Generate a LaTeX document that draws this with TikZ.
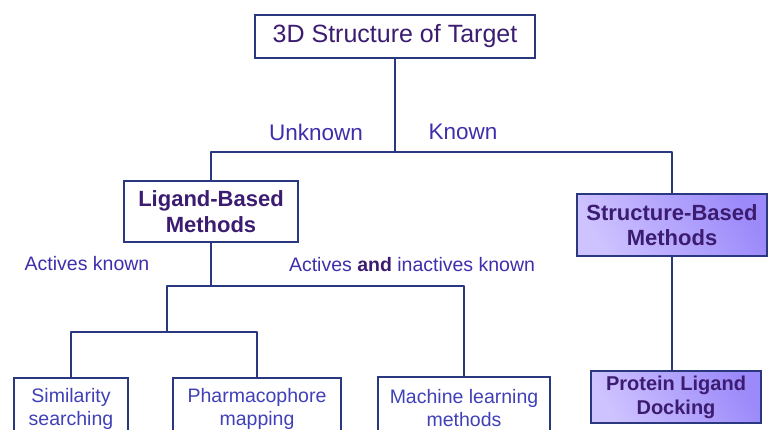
\documentclass[tikz,border=0pt]{standalone}
\usepackage{fontspec}
\setmainfont{Liberation Sans}

\definecolor{linecol}{RGB}{42,56,128}
\definecolor{titlecol}{RGB}{60,28,112}
\definecolor{labelcol}{RGB}{62,46,172}
\definecolor{leafcol}{RGB}{64,64,184}
\definecolor{fillA}{RGB}{206,194,255}
\definecolor{fillB}{RGB}{156,138,250}

\tikzset{
    box/.style={draw=linecol, line width=2.5pt, fill=white, align=center, inner sep=0pt},
    shadebox/.style={box, left color=fillA, right color=fillB, shading angle=120},
    tree/.style={draw=linecol, line width=2.5pt, line join=round},
    lbl/.style={text=labelcol, inner sep=0pt},
}

\begin{document}
\begin{tikzpicture}[x=1pt,y=-1pt]
        \useasboundingbox (0,0) rectangle (770,429);
        \clip (0,0) rectangle (770,429);
        \node[box, minimum width=280pt, minimum height=43pt, text=titlecol, font=\fontsize{25}{30}\selectfont] (target) at (395,36.5) {3D Structure of Target};
        \node[box, minimum width=174pt, minimum height=61pt, text=titlecol, font=\bfseries\fontsize{22}{26}\selectfont] (lig) at (211,211.5) {Ligand-Based\\Methods};
        \node[shadebox, minimum width=190pt, minimum height=62pt, text=titlecol, font=\bfseries\fontsize{22}{25}\selectfont] (struct) at (672,225) {Structure-Based\\Methods};
        \node[shadebox, minimum width=170pt, minimum height=52pt, text=titlecol, font=\bfseries\fontsize{20}{24}\selectfont] (prot) at (676,397) {Protein Ligand\\Docking};
        \node[box, minimum width=114pt, minimum height=62pt, text=leafcol, font=\fontsize{19.5}{23}\selectfont] (sim) at (71,409) {Similarity\\searching};
        \node[box, minimum width=168pt, minimum height=62pt, text=leafcol, font=\fontsize{19.5}{23}\selectfont] (pharm) at (257,409) {Pharmacophore\\mapping};
        \node[box, minimum width=172pt, minimum height=62pt, text=leafcol, font=\fontsize{19.5}{23}\selectfont] (mach) at (464,408) {Machine learning\\methods};

        \node[lbl, font=\fontsize{22.5}{27}\selectfont] (unknown) at (316,132) {Unknown};
        \node[lbl, font=\fontsize{22.5}{27}\selectfont] (known) at (463,132) {Known};
        \node[lbl, font=\fontsize{19.5}{23}\selectfont] (actk) at (87,264) {Actives known};
        \node[lbl, font=\fontsize{19.5}{23}\selectfont] (actik) at (412,265) {Actives \textcolor{titlecol}{\bfseries and} inactives known};

        \coordinate (fork1) at (395,152);
        \coordinate (fork2) at (211,286);
        \coordinate (fork3) at (167,332);
        \draw[tree] (target) -- (fork1);
        \draw[tree] (lig) |- (fork1) -| (struct);
        \draw[tree] (lig) -- (fork2);
        \draw[tree] (fork3) |- (fork2) -| (mach);
        \draw[tree] (sim) |- (fork3) -| (pharm);
        \draw[tree] (struct.south) -- (struct.south |- prot.north);
    \end{tikzpicture}
\end{document}
